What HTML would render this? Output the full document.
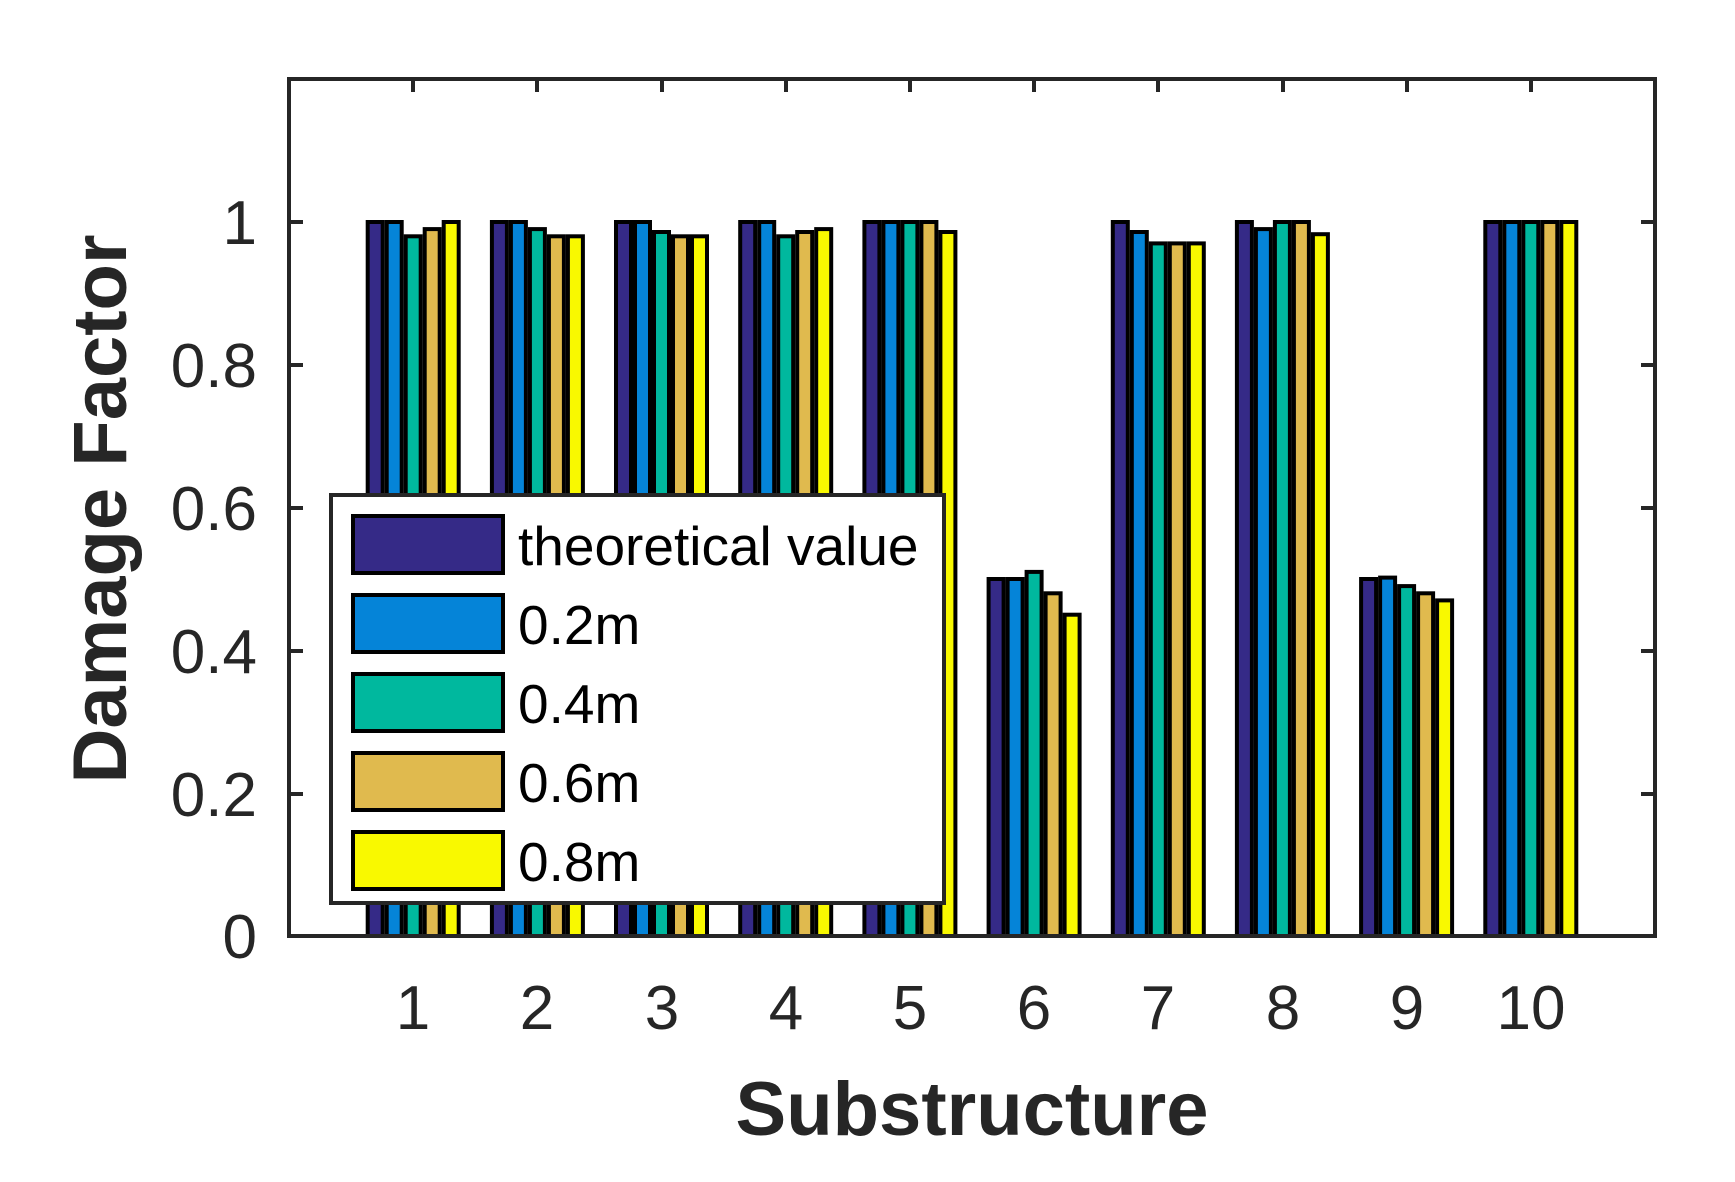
<!DOCTYPE html>
<html><head><meta charset="utf-8"><style>html,body{margin:0;padding:0;background:#fff}svg{display:block}</style></head>
<body>
<svg width="1735" height="1182" viewBox="0 0 1735 1182" xmlns="http://www.w3.org/2000/svg" font-family="Liberation Sans, Arial, sans-serif">
<rect width="1735" height="1182" fill="#fff"/>
<g stroke="#000" stroke-width="4">
<g fill="#352A87">
<rect x="367.7" y="222" width="15" height="714"/>
<rect x="491.9" y="222" width="15" height="714"/>
<rect x="616.0" y="222" width="15" height="714"/>
<rect x="740.2" y="222" width="15" height="714"/>
<rect x="864.4" y="222" width="15" height="714"/>
<rect x="988.6" y="579" width="15" height="357"/>
<rect x="1112.8" y="222" width="15" height="714"/>
<rect x="1236.9" y="222" width="15" height="714"/>
<rect x="1361.1" y="579" width="15" height="357"/>
<rect x="1485.3" y="222" width="15" height="714"/>
</g>
<g fill="#0584D8">
<rect x="386.7" y="222" width="15" height="714"/>
<rect x="510.9" y="222" width="15" height="714"/>
<rect x="635.0" y="222" width="15" height="714"/>
<rect x="759.2" y="222" width="15" height="714"/>
<rect x="883.4" y="222" width="15" height="714"/>
<rect x="1007.6" y="579" width="15" height="357"/>
<rect x="1131.8" y="232" width="15" height="704"/>
<rect x="1255.9" y="229.1" width="15" height="706.9"/>
<rect x="1380.1" y="577.6" width="15" height="358.4"/>
<rect x="1504.3" y="222" width="15" height="714"/>
</g>
<g fill="#00B89E">
<rect x="405.7" y="236.3" width="15" height="699.7"/>
<rect x="529.9" y="229.1" width="15" height="706.9"/>
<rect x="654.0" y="232" width="15" height="704"/>
<rect x="778.2" y="236.3" width="15" height="699.7"/>
<rect x="902.4" y="222" width="15" height="714"/>
<rect x="1026.6" y="571.9" width="15" height="364.1"/>
<rect x="1150.8" y="243.4" width="15" height="692.6"/>
<rect x="1274.9" y="222" width="15" height="714"/>
<rect x="1399.1" y="586.1" width="15" height="349.9"/>
<rect x="1523.3" y="222" width="15" height="714"/>
</g>
<g fill="#E0BA4E">
<rect x="424.7" y="229.1" width="15" height="706.9"/>
<rect x="548.9" y="236.3" width="15" height="699.7"/>
<rect x="673.0" y="236.3" width="15" height="699.7"/>
<rect x="797.2" y="232" width="15" height="704"/>
<rect x="921.4" y="222" width="15" height="714"/>
<rect x="1045.6" y="593.3" width="15" height="342.7"/>
<rect x="1169.8" y="243.4" width="15" height="692.6"/>
<rect x="1293.9" y="222" width="15" height="714"/>
<rect x="1418.1" y="593.3" width="15" height="342.7"/>
<rect x="1542.3" y="222" width="15" height="714"/>
</g>
<g fill="#F9F900">
<rect x="443.7" y="222" width="15" height="714"/>
<rect x="567.9" y="236.3" width="15" height="699.7"/>
<rect x="692.0" y="236.3" width="15" height="699.7"/>
<rect x="816.2" y="229.1" width="15" height="706.9"/>
<rect x="940.4" y="232" width="15" height="704"/>
<rect x="1064.6" y="614.7" width="15" height="321.3"/>
<rect x="1188.8" y="243.4" width="15" height="692.6"/>
<rect x="1312.9" y="234.2" width="15" height="701.8"/>
<rect x="1437.1" y="600.4" width="15" height="335.6"/>
<rect x="1561.3" y="222" width="15" height="714"/>
</g>
</g>
<g stroke="#262626" stroke-width="4" fill="none">
<rect x="289" y="79" width="1366" height="857"/>
<path d="M289 222h14M289 365h14M289 508h14M289 651h14M289 794h14M1655 222h-14M1655 365h-14M1655 508h-14M1655 651h-14M1655 794h-14"/>
<path d="M413 79v13M537 79v13M662 79v13M786 79v13M910 79v13M1034 79v13M1158 79v13M1283 79v13M1407 79v13M1531 79v13"/>
</g>
<g fill="#262626" font-size="62" text-anchor="end">
<text x="257" y="958">0</text><text x="257" y="816">0.2</text><text x="257" y="673">0.4</text>
<text x="257" y="530">0.6</text><text x="257" y="387">0.8</text><text x="257" y="244">1</text>
</g>
<g fill="#262626" font-size="62" text-anchor="middle">
<text x="413" y="1029">1</text><text x="537" y="1029">2</text><text x="662" y="1029">3</text><text x="786" y="1029">4</text><text x="910" y="1029">5</text>
<text x="1034" y="1029">6</text><text x="1158" y="1029">7</text><text x="1283" y="1029">8</text><text x="1407" y="1029">9</text><text x="1531" y="1029">10</text>
</g>
<text x="972" y="1135" font-size="76" font-weight="bold" fill="#262626" text-anchor="middle">Substructure</text>
<text transform="translate(126,509) rotate(-90)" font-size="76" font-weight="bold" fill="#262626" text-anchor="middle">Damage Factor</text>
<rect x="331" y="495" width="613" height="408" fill="#fff" stroke="#262626" stroke-width="4"/>
<g stroke="#000" stroke-width="4">
<rect x="353" y="516" width="150" height="57" fill="#352A87"/>
<rect x="353" y="595" width="150" height="57" fill="#0584D8"/>
<rect x="353" y="674" width="150" height="57" fill="#00B89E"/>
<rect x="353" y="753" width="150" height="57" fill="#E0BA4E"/>
<rect x="353" y="832" width="150" height="57" fill="#F9F900"/>
</g>
<g font-size="55" fill="#000">
<text x="518" y="565">theoretical value</text>
<text x="518" y="644">0.2m</text>
<text x="518" y="723">0.4m</text>
<text x="518" y="802">0.6m</text>
<text x="518" y="881">0.8m</text>
</g>
</svg>
</body></html>
